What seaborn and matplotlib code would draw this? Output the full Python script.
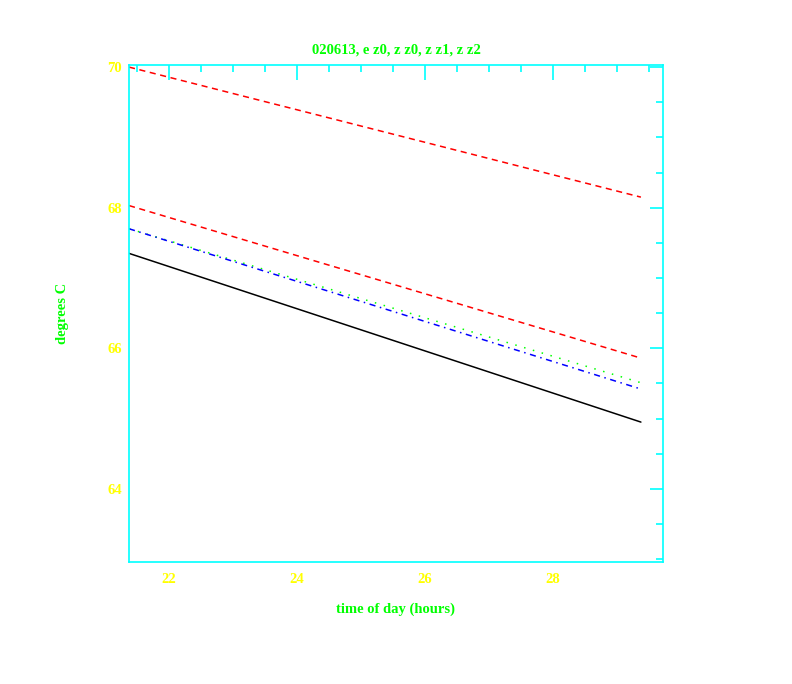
import numpy as np
import pandas as pd
import matplotlib
matplotlib.use("Agg")
import matplotlib.pyplot as plt
import seaborn as sns
from matplotlib.ticker import MultipleLocator

# time of day (hours), start and end of the record
hours = [21.375, 29.375]

# temperatures (degrees C) at start and end
e_z0 = [70.00, 68.15]
z_z0a = [68.03, 65.86]
z_z0b = [67.70, 65.51]
z_z1 = [67.70, 65.42]
z_z2 = [67.35, 64.95]

series = [
    ("e z0", e_z0, "#ff0000", (0, (4, 3))),
    ("z z0", z_z0a, "#ff0000", (0, (4, 3))),
    ("z z0b", z_z0b, "#00ff00", (0, (1, 5))),
    ("z z1", z_z1, "#0000ff", (0, (4, 3, 1, 3))),
    ("z z2", z_z2, "#000000", "-"),
]

sns.set_style("white")
plt.rcParams["font.family"] = ["Liberation Serif", "DejaVu Serif"]
plt.rcParams["font.weight"] = "bold"

fig = plt.figure(figsize=(7.92, 6.84), dpi=100)
ax = fig.add_axes([0.1629, 0.1784, 0.6742, 0.7266])

for name, vals, col, ls in series:
    df = pd.DataFrame({"hours": hours, "temp": vals})
    sns.lineplot(data=df, x="hours", y="temp", ax=ax, color=col,
                 linestyle=ls, linewidth=1.1)

ax.set_xlim(21.375, 29.72)
ax.set_ylim(62.96, 70.03)
ax.xaxis.set_major_locator(MultipleLocator(2))
ax.xaxis.set_minor_locator(MultipleLocator(0.5))
ax.yaxis.set_major_locator(MultipleLocator(2))
ax.yaxis.set_minor_locator(MultipleLocator(0.5))

cyan = "#00ffff"
for sp in ax.spines.values():
    sp.set_color(cyan)
    sp.set_linewidth(1.2)
ax.tick_params(which="both", direction="in", top=True, right=True,
               color=cyan, labelcolor="#ffff00", labelsize=10.5, width=1.2)
ax.tick_params(axis="x", which="major", length=11, pad=8)
ax.tick_params(axis="y", which="major", length=9.5, pad=5)
ax.tick_params(which="minor", length=5)
for lab in ax.get_xticklabels() + ax.get_yticklabels():
    lab.set_fontweight("bold")

ax.set_title("020613, e z0, z z0, z z1, z z2", color="#00ff00",
             fontsize=10.5, fontweight="bold", pad=8)
ax.set_xlabel("time of day (hours)", color="#00ff00", fontsize=10.5,
              fontweight="bold", labelpad=12)
ax.set_ylabel("degrees C", color="#00ff00", fontsize=10.5,
              fontweight="bold", labelpad=28)

fig.savefig("out.png", dpi=100, facecolor="white")
